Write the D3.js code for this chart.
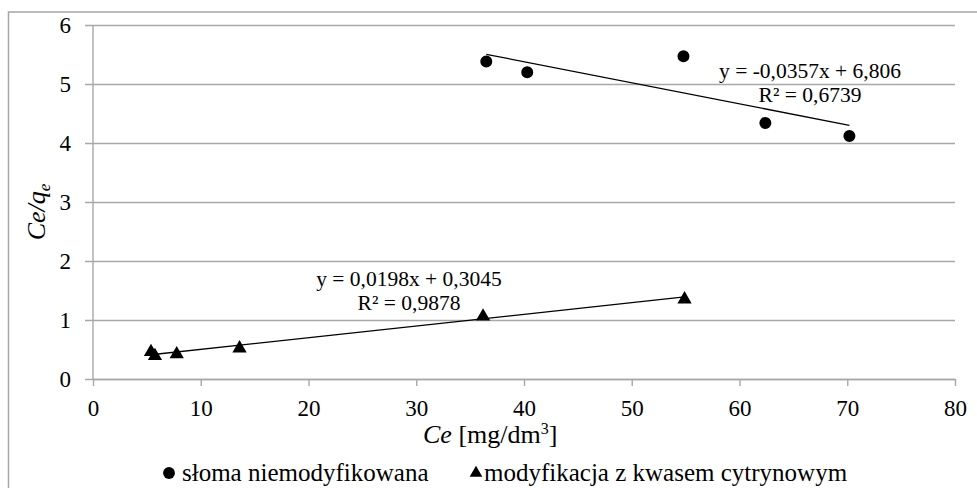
<!DOCTYPE html>
<html>
<head>
<meta charset="utf-8">
<script src="https://cdn.jsdelivr.net/npm/d3@7"></script>
<style>
    html, body { margin: 0; padding: 0; background: #fff; }
    svg, svg text { font-family: "Liberation Serif", "DejaVu Serif", "Times New Roman", serif !important; fill: #000; }
</style>
</head>
<body>
<div id="chart"></div>
<script>
// dane
const strawCe = [36.5, 40.3, 54.8, 62.4, 70.2]
const strawCq = [5.38, 5.20, 5.47, 4.34, 4.12]
const citricCe = [5.38, 5.75, 7.77, 13.6, 36.2, 54.9]
const citricCq = [0.46, 0.39, 0.42, 0.52, 1.06, 1.35]

// linie trendu (z równań na wykresie)
const strawTrend = { slope: -0.0357, intercept: 6.806 }
const citricTrend = { slope: 0.0198, intercept: 0.3045 }

const xTicks = [0, 10, 20, 30, 40, 50, 60, 70, 80]
const yTicks = [0, 1, 2, 3, 4, 5, 6]
const seriesNames = ['słoma niemodyfikowana', 'modyfikacja z kwasem cytrynowym']

const width = 977
const height = 488
const plot = { left: 93, right: 955, top: 25, bottom: 379 }
const gridColor = '#a8a8a8'
const serif = '"Liberation Serif", "DejaVu Serif", serif'

const svg = d3.select('#chart').append('svg')
    .attr('width', width)
    .attr('height', height)
    .attr('font-family', serif)

// ramka wykresu (prawa i dolna krawędź poza obrazem)
svg.append('rect')
    .attr('x', 8.5).attr('y', 12)
    .attr('width', 1000).attr('height', 500)
    .attr('fill', 'none')
    .attr('stroke', '#a6a6a6')
    .attr('stroke-width', 1.5)

const x = d3.scaleLinear().domain([0, 80]).range([plot.left, plot.right])
const y = d3.scaleLinear().domain([0, 6]).range([plot.bottom, plot.top])

// siatka pozioma + znaczniki osi Y
const yAxis = d3.axisLeft(y)
    .tickValues(yTicks)
    .tickSize(-(plot.right - plot.left) - 8)
    .tickFormat(d3.format('d'))
const gy = svg.append('g')
    .attr('transform', 'translate(' + (plot.right) + ',0)')
    .call(yAxis)
    .attr('font-family', serif)
gy.select('.domain').remove()
gy.selectAll('.tick line')
    .attr('x1', 0)
    .attr('x2', -(plot.right - plot.left) - 8)
    .attr('stroke', gridColor)
    .attr('stroke-width', 1.4)
gy.selectAll('.tick text')
    .attr('x', -(plot.right - plot.left) - 22)
    .attr('dy', '0.34em')
    .style('font-size', '23px')

// oś X
const xAxis = d3.axisBottom(x)
    .tickValues(xTicks)
    .tickSize(7)
    .tickSizeOuter(0)
const gx = svg.append('g')
    .attr('transform', 'translate(0,' + plot.bottom + ')')
    .call(xAxis)
    .attr('font-family', serif)
gx.select('.domain').attr('stroke', gridColor).attr('stroke-width', 1.4)
gx.selectAll('.tick line').attr('stroke', gridColor).attr('stroke-width', 1.4)
gx.selectAll('.tick text')
    .attr('y', 37)
    .attr('dy', 0)
    .style('font-size', '23px')

// pionowa linia osi Y
svg.append('line')
    .attr('x1', x(0)).attr('x2', x(0))
    .attr('y1', y(6)).attr('y2', y(0))
    .attr('stroke', gridColor)
    .attr('stroke-width', 1.4)

// linie trendu
function trendLine(ce, trend) {
    const ext = d3.extent(ce)
    const pts = ext.map(v => [x(v), y(trend.slope * v + trend.intercept)])
    svg.append('path')
        .attr('d', d3.line()(pts))
        .attr('fill', 'none')
        .attr('stroke', '#000')
        .attr('stroke-width', 1.3)
}
trendLine(strawCe, strawTrend)
trendLine(citricCe, citricTrend)

// punkty pomiarowe
const circle = d3.symbol().type(d3.symbolCircle).size(113)
const triangle = d3.symbol().type(d3.symbolTriangle).size(88)

svg.append('g').selectAll('path')
    .data(strawCe)
    .enter()
    .append('path')
    .attr('d', circle)
    .attr('transform', (d, i) => 'translate(' + x(d) + ',' + y(strawCq[i]) + ')')
    .attr('fill', '#000')

svg.append('g').selectAll('path')
    .data(citricCe)
    .enter()
    .append('path')
    .attr('d', triangle)
    .attr('transform', (d, i) => 'translate(' + x(d) + ',' + y(citricCq[i]) + ')')
    .attr('fill', '#000')

// równania linii trendu
function equation(cx, by, line1, line2) {
    const g = svg.append('g').style('font-size', '21.5px').style('white-space', 'pre')
    g.append('text').attr('x', cx).attr('y', by).attr('text-anchor', 'middle').text(line1)
    g.append('text').attr('x', cx).attr('y', by + 24).attr('text-anchor', 'middle').text(line2)
}
equation(810, 78, 'y = -0,0357x  + 6,806', 'R² = 0,6739')
equation(409, 286, 'y = 0,0198x  + 0,3045', 'R² = 0,9878')

// tytuł osi X
const xTitle = svg.append('text')
    .attr('x', 423)
    .attr('y', 443)
    .style('font-size', '26px')
xTitle.append('tspan').style('font-style', 'italic').text('Ce')
xTitle.append('tspan').text(' [mg/dm')
xTitle.append('tspan').attr('dy', -9).style('font-size', '16px').text('3')
xTitle.append('tspan').attr('dy', 9).text(']')

// tytuł osi Y
const yTitle = svg.append('text')
    .attr('transform', 'translate(45,212) rotate(-90)')
    .attr('text-anchor', 'middle')
    .style('font-size', '26px')
    .style('font-style', 'italic')
yTitle.append('tspan').text('Ce/q')
yTitle.append('tspan').attr('dy', 5).style('font-size', '17px').text('e')

// legenda
const legend = svg.append('g').style('font-size', '25px')
legend.append('path')
    .attr('d', d3.symbol().type(d3.symbolCircle).size(110))
    .attr('transform', 'translate(169,473)')
legend.append('text').attr('x', 182).attr('y', 481).text(seriesNames[0])
legend.append('path')
    .attr('d', d3.symbol().type(d3.symbolTriangle).size(70))
    .attr('transform', 'translate(476,473)')
legend.append('text').attr('x', 484).attr('y', 481).text(seriesNames[1])
</script>
</body>
</html>
